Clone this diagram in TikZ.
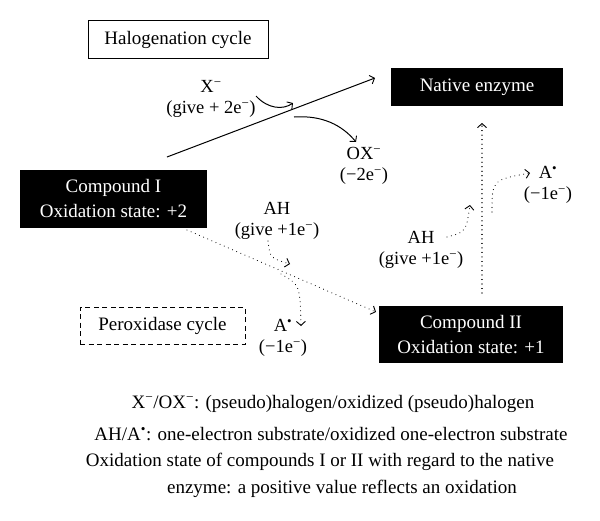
\documentclass[tikz,border=0pt]{standalone}
\usepackage{fontspec}
\setmainfont{Liberation Serif}
\usetikzlibrary{arrows.meta}
\begin{document}
\begin{tikzpicture}[x=1pt,y=-1pt,
  txt/.style={font=\fontsize{18.5}{21}\selectfont, inner sep=0pt, align=center},
  blackbox/.style={fill=black, text=white, font=\fontsize{19}{25}\selectfont, align=center, inner sep=0pt},
  tip/.style={-{Straight Barb[length=4pt,width=9pt,line width=0.9pt]}},
  solidarr/.style={tip, line width=1pt},
  dotarr/.style={tip, line width=1.1pt, dash pattern=on 0.01pt off 4.5pt, line cap=round},
  legend/.style={font=\fontsize{19}{21}\selectfont, inner sep=0pt, anchor=base}
]
\useasboundingbox (0,0) rectangle (600,520);
\fill[white] (0,0) rectangle (600,520);

% boxes
\node[draw, line width=0.9pt, minimum width=180pt, minimum height=38pt, txt, font=\fontsize{19}{21}\selectfont] (halo) at (178,39.5) {Halogenation cycle};
\node[blackbox, minimum width=172pt, minimum height=38pt] (native) at (477,87) {Native enzyme};
\node[blackbox, minimum width=187pt, minimum height=58pt] (c1) at (113.5,199) {Compound I\\Oxidation state: +2};
\node[blackbox, minimum width=184pt, minimum height=57pt] (c2) at (471,334.5) {Compound II\\Oxidation state: +1};
\node[draw, dashed, dash pattern=on 5pt off 3.5pt, line width=0.9pt, minimum width=165pt, minimum height=37pt, txt, font=\fontsize{19}{21}\selectfont] (perox) at (162.5,325.5) {Peroxidase cycle};

% labels
\node[txt] (x) at (211,99) {X\textsuperscript{−}\\(give + 2e\textsuperscript{−})};
\node[txt] (ox) at (364,166) {OX\textsuperscript{−}\\(−2e\textsuperscript{−})};
\node[txt] (ahl) at (277,221) {AH\\(give +1e\textsuperscript{−})};
\node[txt] (al) at (283,338) {A\textsuperscript{•}\\(−1e\textsuperscript{−})};
\node[txt] (ahr) at (421,250) {AH\\(give +1e\textsuperscript{−})};
\node[txt] (ar) at (548,185) {A\textsuperscript{•}\\(−1e\textsuperscript{−})};

% coordinates
\coordinate (m1) at (167,157);
\coordinate (m2) at (375,78);
\coordinate (xs) at (256,96);
\coordinate (xe) at (293,103);
\coordinate (os) at (294,117);
\coordinate (oe) at (356,142);
\coordinate (d1s) at (187,230);
\coordinate (d1e) at (376,312);
\coordinate (ahls) at (268,241);
\coordinate (ahle) at (290,264);
\coordinate (als) at (281,274);
\coordinate (ale) at (301,326);
\coordinate (vs) at (482,293);
\coordinate (ve) at (482,123);
\coordinate (ahrs) at (447,237);
\coordinate (ahre) at (470,205);
\coordinate (ars) at (492,212);
\coordinate (are) at (530,173);

% connectors
\draw[solidarr] (m1) -- (m2);
\draw[solidarr] (xs) .. controls (268,109) and (283,110) .. (xe);
\draw[solidarr] (os) .. controls (322,115) and (342,125) .. (oe);
\draw[dotarr] (d1s) -- (d1e);
\draw[dotarr] (ahls) .. controls (270,258) .. (ahle);
\draw[dotarr] (als) .. controls (300,285) .. (ale);
\draw[dotarr] (vs) -- (ve);
\draw[dotarr] (ahrs) .. controls (466,232) .. (ahre);
\draw[dotarr] (ars) .. controls (492,180) .. (are);

% legend
\node[legend] (l1) at (333,408) {X\textsuperscript{−}/OX\textsuperscript{−}: (pseudo)halogen/oxidized (pseudo)halogen};
\node[legend] (l2) at (331,440) {AH/A\textsuperscript{•}: one-electron substrate/oxidized one-electron substrate};
\node[legend] (l3) at (320,466) {Oxidation state of compounds I or II with regard to the native};
\node[legend] (l4) at (342,493) {enzyme: a positive value reflects an oxidation};
\end{tikzpicture}
\end{document}
